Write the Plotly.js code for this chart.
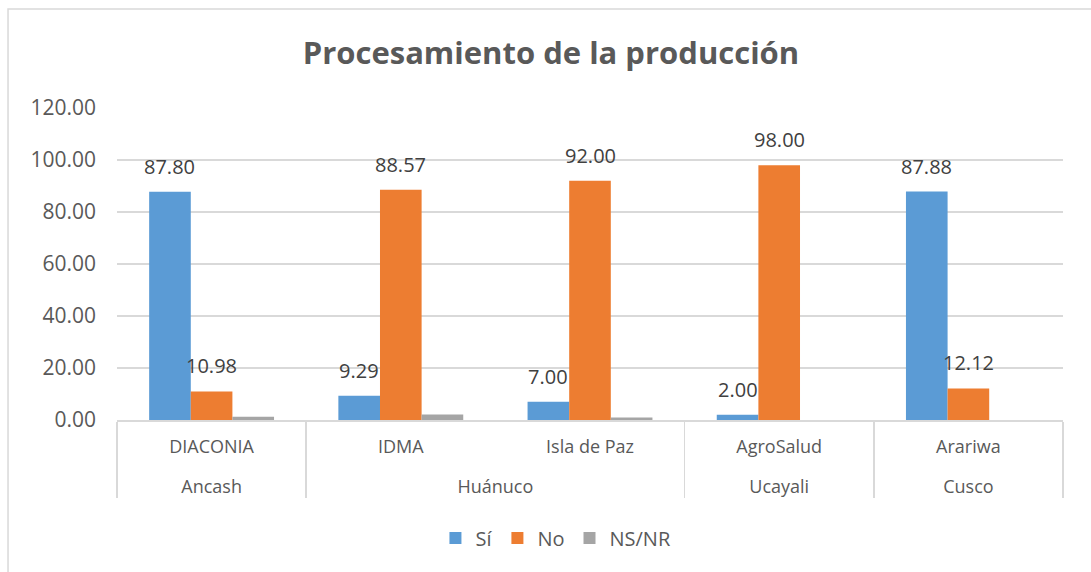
<!DOCTYPE html>
<html>
<head>
<meta charset="utf-8">
<script src="https://cdn.plot.ly/plotly-3.0.1.min.js"></script>
<style>
  html, body { margin:0; padding:0; background:#fff; }
  #chart { width:1091px; height:572px; }
</style>
</head>
<body>
<div id="chart"></div>
<script>
const regions = ['Ancash', 'Huánuco', 'Huánuco', 'Ucayali', 'Cusco'];
const orgs = ['DIACONIA', 'IDMA', 'Isla de Paz', 'AgroSalud', 'Arariwa'];
const si = [87.80, 9.29, 7.00, 2.00, 87.88];
const no = [10.98, 88.57, 92.00, 98.00, 12.12];
const nsnr = [1.22, 2.14, 1.00, 0, 0];

const txt = '#595959';
const font = 'Open Sans, sans-serif';
const gap = 0.34;
const w = (1 - gap) / 3;

// blank first line pushes the outer (region) row further down, like Excel
const xcats = [regions.map(r => '<br>' + r), orgs];

function bar(name, vals, color){
  return {
    type:'bar', name, x:xcats, y:vals,
    marker:{color}, hoverinfo:'y'
  };
}

const traces = [
  bar('Sí', si, '#5B9BD5'),
  bar('No', no, '#ED7D31'),
  bar('NS/NR', nsnr, '#A5A5A5')
];

// data labels only for Sí and No, lifted above the bar
const annotations = [];
[[si, -w], [no, 0]].forEach(([vals, off]) => {
  vals.forEach((v, i) => annotations.push({
    x: i + off, y: v, xref:'x', yref:'y',
    text: v.toFixed(2), showarrow:false,
    yanchor:'bottom', yshift:10,
    font:{family:font, size:20, color:'#404040'}
  }));
});

const layout = {
  width:1091, height:572,
  margin:{l:117, r:28, t:108, b:152},
  paper_bgcolor:'#fff', plot_bgcolor:'#fff',
  font:{family:font, color:txt},
  title:{text:'<b>Procesamiento de la producción</b>', x:0.505, xanchor:'center', y:0.907, yanchor:'middle',
         font:{family:font, size:31, color:txt}},
  barmode:'group', bargap:gap, bargroupgap:0,
  showlegend:true,
  legend:{orientation:'h', x:0.464, xanchor:'center', y:-0.378, yanchor:'middle',
          font:{family:font, size:20, color:txt}, traceorder:'normal'},
  xaxis:{
    type:'multicategory', showline:true, linecolor:'#d9d9d9', linewidth:1.5,
    showdividers:true, dividercolor:'#d9d9d9', dividerwidth:1.5,
    ticklabelstandoff:10,
    tickfont:{family:font, size:18, color:txt}, ticks:'', showgrid:false
  },
  yaxis:{
    range:[0,120], dtick:20, tickformat:'.2f',
    gridcolor:'#d9d9d9', gridwidth:1.5, zeroline:false,
    ticks:'', ticklabelstandoff:20,
    tickfont:{family:font, size:21, color:txt}
  },
  annotations,
  shapes:[{type:'rect', xref:'paper', yref:'paper', x0:-0.1152, x1:1.08, y0:-0.6, y1:1.3173,
           line:{color:'#d9d9d9', width:1.5}, fillcolor:'rgba(0,0,0,0)', layer:'below'}]
};

Plotly.newPlot('chart', traces, layout, {displayModeBar:false, staticPlot:true});
</script>
</body>
</html>
